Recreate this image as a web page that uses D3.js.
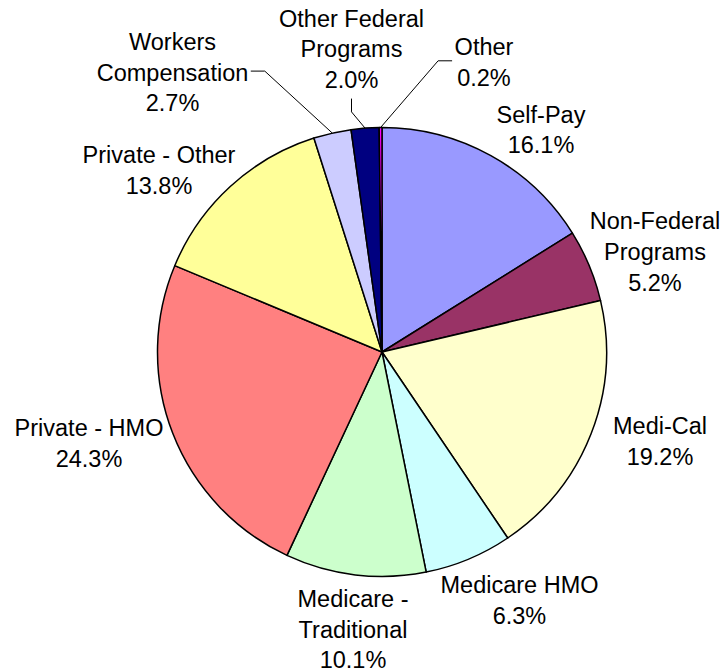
<!DOCTYPE html>
<html>
<head>
<meta charset="utf-8">
<script src="https://cdn.jsdelivr.net/npm/d3@7"></script>
<style>
  body { margin: 0; background: #fff; }
  text { font-family: "Liberation Sans", Arial, sans-serif; font-size: 23.5px; fill: #000; }
</style>
</head>
<body>
<script>
// Datos del gráfico (porcentajes por fuente de pago)
var categorias = ["Self-Pay", "Non-Federal Programs", "Medi-Cal", "Medicare HMO", "Medicare - Traditional",
                  "Private - HMO", "Private - Other", "Workers Compensation", "Other Federal Programs", "Other"]
var valores = [16.1, 5.2, 19.2, 6.3, 10.1, 24.3, 13.8, 2.7, 2.0, 0.2]
// Texto de cada etiqueta, línea por línea
var lineasEtiqueta = [["Self-Pay"], ["Non-Federal", "Programs"], ["Medi-Cal"], ["Medicare HMO"], ["Medicare -", "Traditional"],
                      ["Private - HMO"], ["Private - Other"], ["Workers", "Compensation"], ["Other Federal", "Programs"], ["Other"]]
var colores = ["#9999ff", "#993366", "#ffffcc", "#ccffff", "#ccffcc", "#ff8080", "#ffff99", "#ccccff", "#000080", "#ff00ff"]

// Posición de las etiquetas respecto al centro (centro x, primera línea base) y tipo de guía
var posEtiqueta = [
    {dx: 159, dy: -229.3}, {dx: 273, dy: -122.7}, {dx: 278, dy: 82.3}, {dx: 137.5, dy: 241.3},
    {dx: -29, dy: 255}, {dx: -293, dy: 84}, {dx: -223, dy: -188.7},
    {dx: -209.5, dy: -302, guia: "derecha"}, {dx: -30.5, dy: -325.3, guia: "abajo"}, {dx: 102, dy: -297, guia: "izquierda"}
]

var ancho = 723, alto = 672
var cx = 382, cy = 352, radio = 224.5
var interlineado = 30.6

var datos = categorias.map((c, i) => ({nombre: c, valor: valores[i], lineas: lineasEtiqueta[i].concat([valores[i].toFixed(1) + "%"]), color: colores[i], pos: posEtiqueta[i]}))

var svg = d3.select("body")
    .append("svg")
    .attr("width", ancho)
    .attr("height", alto)

var pie = d3.pie()
    .value(d => d.valor)
    .sort(null)                 // Mantiene el orden, empezando a las 12 en sentido horario

var arco = d3.arc()
    .innerRadius(0)
    .outerRadius(radio)

var arcoBorde = d3.arc()        // Para obtener el punto medio del borde de cada porción
    .innerRadius(radio)
    .outerRadius(radio)

var g = svg.append("g")
    .attr("transform", "translate(" + cx + "," + cy + ")")

var porciones = pie(datos)

g.selectAll("path")
    .data(porciones)
    .enter()
    .append("path")
    .attr("d", arco)
    .attr("fill", d => d.data.color)
    .attr("stroke", "#000")
    .attr("stroke-width", 1.5)
    .attr("stroke-linejoin", "round")

// Etiquetas
var etiquetas = g.selectAll("text.etiqueta")
    .data(porciones)
    .enter()
    .append("text")
    .attr("class", "etiqueta")
    .attr("text-anchor", "middle")
    .attr("x", d => d.data.pos.dx)
    .attr("y", d => d.data.pos.dy)

etiquetas.selectAll("tspan")
    .data(d => d.data.lineas.map(l => ({texto: l, x: d.data.pos.dx})))
    .enter()
    .append("tspan")
    .attr("x", t => t.x)
    .attr("dy", (t, i) => i == 0 ? 0 : interlineado)
    .text(t => t.texto)

// Líneas guía para las porciones pequeñas
etiquetas.each(function(d) {
    var tipo = d.data.pos.guia
    if (!tipo) return
    var caja = this.getBBox()
    var p = arcoBorde.centroid(d)
    var n = d.data.lineas.length
    var yBase0 = d.data.pos.dy, yBaseN = d.data.pos.dy + (n - 1) * interlineado
    var yMedio = (yBase0 + yBaseN) / 2 - 9.5
    var puntos
    if (tipo == "derecha") {
        var x0 = caja.x + caja.width + 2.5
        puntos = [[x0, yMedio], [x0 + 14, yMedio], p]
    } else if (tipo == "izquierda") {
        var anchoPrimera = this.querySelector("tspan").getComputedTextLength()
        var x0 = d.data.pos.dx - anchoPrimera / 2 - 2.5
        puntos = [[x0, yMedio], [x0 - 14, yMedio], p]
    } else {
        var y0 = yBaseN + 10.7
        puntos = [[d.data.pos.dx, y0], [d.data.pos.dx, y0 + 13.3], p]
    }
    g.append("path")
        .attr("d", d3.line()(puntos))
        .attr("fill", "none")
        .attr("stroke", "#000")
        .attr("stroke-width", 1)
})
</script>
</body>
</html>
